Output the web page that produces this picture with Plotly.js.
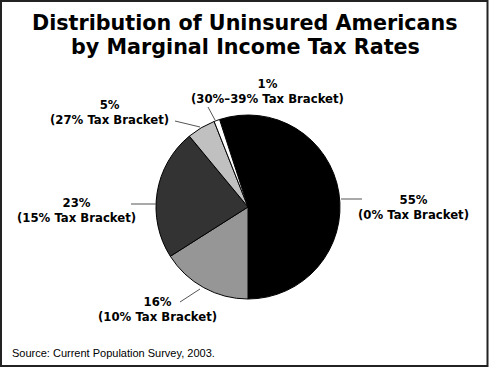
<!DOCTYPE html>
<html>
<head>
<meta charset="utf-8">
<script src="https://cdn.plot.ly/plotly-3.0.1.min.js"></script>
<style>
html,body{margin:0;padding:0;background:#fff;}
#chart{width:489px;height:367px;}
</style>
</head>
<body>
<div id="chart"></div>
<script>
// ---- data ----
const categories = ['0% Tax Bracket', '10% Tax Bracket', '15% Tax Bracket', '27% Tax Bracket', '30%\u201339% Tax Bracket'];
const shares = [55, 16, 23, 5, 1];
const sliceColors = ['#000000', '#969696', '#333333', '#c0c0c0', '#ffffff'];
const titleLines = ['Distribution of Uninsured Americans', 'by Marginal Income Tax Rates'];
const sourceNote = 'Source: Current Population Survey, 2003.';

// ---- layout helpers (pixel positions in the 489x367 canvas) ----
const W = 489, H = 367;
const px = x => x / W;
const py = y => 1 - y / H;
const cx = 248, cy = 207, R = 92;

// label centres and leader lines per slice (pixels)
const labelPos = [
  {x: 413, y: 207, line: [[341, 199], [362, 199]]},
  {x: 157, y: 309.5, line: [[200, 289], [180, 302]]},
  {x: 76, y: 210, line: [[156, 204], [131, 204]]},
  {x: 109, y: 112.5, line: [[200, 127], [175, 121]]},
  {x: 267, y: 91, line: [[215, 120], [208, 107]]}
];

const labelFont = {family: 'DejaVu Sans, sans-serif', size: 11.7, color: '#000'};
const titleFont = {family: 'DejaVu Sans, sans-serif', size: 20.7, color: '#000'};

const annotations = categories.map((c, i) => ({
  text: '<b>' + shares[i] + '%<br>(' + c + ')</b>',
  x: px(labelPos[i].x), y: py(labelPos[i].y),
  xref: 'paper', yref: 'paper', xanchor: 'center', yanchor: 'middle',
  showarrow: false, font: labelFont, align: 'center'
}));

annotations.push({
  text: '<b>' + titleLines[0] + '</b>', x: px(245), y: py(23), xref: 'paper', yref: 'paper',
  xanchor: 'center', yanchor: 'middle', showarrow: false, font: titleFont
});
annotations.push({
  text: '<b>' + titleLines[1] + '</b>', x: px(245), y: py(47.5), xref: 'paper', yref: 'paper',
  xanchor: 'center', yanchor: 'middle', showarrow: false, font: titleFont
});
annotations.push({
  text: sourceNote, x: px(10), y: py(353), xref: 'paper', yref: 'paper',
  xanchor: 'left', yanchor: 'middle', showarrow: false,
  font: {family: 'Liberation Sans, Arial, sans-serif', size: 11, color: '#000'}
});

const shapes = labelPos.map(p => ({
  type: 'line', xref: 'paper', yref: 'paper',
  x0: px(p.line[0][0]), y0: py(p.line[0][1]), x1: px(p.line[1][0]), y1: py(p.line[1][1]),
  line: {color: '#555', width: 1}
}));
shapes.push({
  type: 'rect', xref: 'paper', yref: 'paper',
  x0: px(1), y0: py(366), x1: px(487.5), y1: py(1),
  line: {color: '#222', width: 2}
});

const trace = {
  type: 'pie',
  labels: categories,
  values: shares,
  sort: false,
  direction: 'clockwise',
  rotation: -18,
  textinfo: 'none',
  hoverinfo: 'label+percent',
  marker: {colors: sliceColors, line: {color: '#000', width: 1}},
  domain: {x: [px(cx - R), px(cx + R)], y: [py(cy + R), py(cy - R)]},
  showlegend: false
};

const layout = {
  width: W, height: H,
  margin: {l: 0, r: 0, t: 0, b: 0},
  paper_bgcolor: '#fff',
  showlegend: false,
  annotations: annotations,
  shapes: shapes
};

Plotly.newPlot('chart', [trace], layout, {staticPlot: true, displayModeBar: false});
</script>
</body>
</html>
